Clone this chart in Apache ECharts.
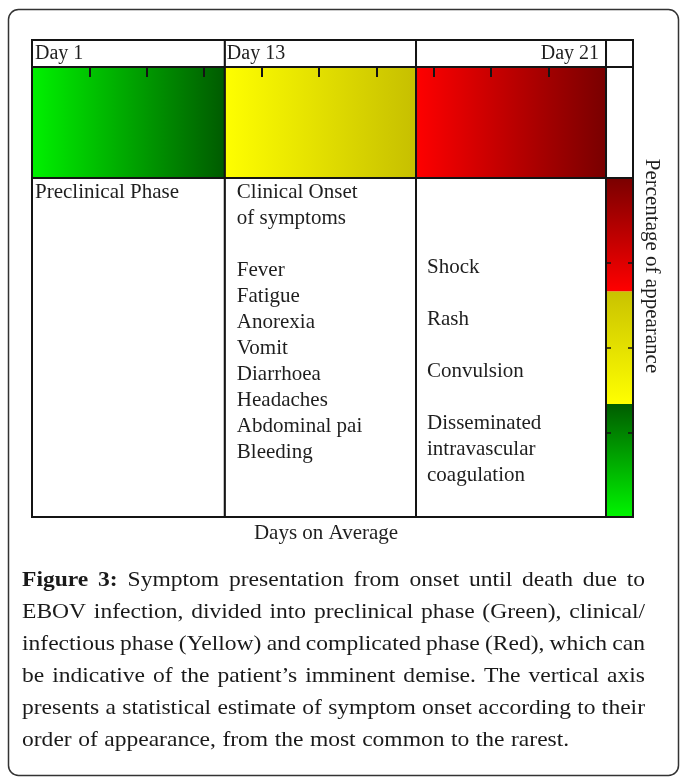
<!DOCTYPE html>
<html>
<head>
<meta charset="utf-8">
<style>
  html, body { margin: 0; padding: 0; background: #ffffff; }
  #chart { width: 680px; height: 778px; }
</style>
<script src="https://cdn.jsdelivr.net/npm/echarts@6/dist/echarts.min.js"></script>
</head>
<body>
<div id="chart"></div>
<script>
// ---------------- data ----------------
const dayLabels = ['Day 1', 'Day 13', 'Day 21'];
const dayAnchors = [0, 3.36, 10];            // x-axis units where the day labels sit
const phaseStarts = [0, 3.36, 6.69];          // x-axis units (timeline schematic)
const phaseEnds = [3.36, 6.69, 10];
const extraColumnEnd = 10.47;                 // right-hand column holding the colour scale
const preclinicalLines = ['Preclinical Phase'];
const preclinicalRows = [0];
const clinicalLines = ['Clinical Onset', 'of symptoms', 'Fever', 'Fatigue', 'Anorexia', 'Vomit',
  'Diarrhoea', 'Headaches', 'Abdominal pai', 'Bleeding'];
const clinicalRows = [0, 1, 3, 4, 5, 6, 7, 8, 9, 10];
const complicatedLines = ['Shock', 'Rash', 'Convulsion', 'Disseminated', 'intravascular', 'coagulation'];
const complicatedRows = [2.9, 4.9, 6.9, 8.9, 9.9, 10.9];
const percentSegments = [33.3, 33.3, 33.4];   // green, yellow, red (bottom to top)
const percentTickInterval = 25;
const captionBold = 'Figure 3:';
const captionLines = [
  'Symptom presentation from onset until death due to',
  'EBOV infection, divided into preclinical phase (Green), clinical/',
  'infectious phase (Yellow) and complicated phase (Red), which can',
  'be indicative of the patient\u2019s imminent demise. The vertical axis',
  'presents a statistical estimate of symptom onset according to their',
  'order of appearance, from the most common to the rarest.'
];

// ---------------- styles ----------------
const SERIF = '"Liberation Serif", "Times New Roman", serif';
const LINE = '#141414';
const TXT = '#1e1e1e';
const bandGradients = [
  ['#00f200', '#005a00'],
  ['#ffff00', '#c6bf00'],
  ['#ff0000', '#780000']
];
const segGradients = [   // top colour -> bottom colour
  ['#005c00', '#00f500'],
  ['#c9c200', '#ffff00'],
  ['#7a0000', '#ff0000']
];
function hGrad(c) {
  return new echarts.graphic.LinearGradient(0, 0, 1, 0, [{offset: 0, color: c[0]}, {offset: 1, color: c[1]}]);
}
function vGrad(c) {
  return new echarts.graphic.LinearGradient(0, 0, 0, 1, [{offset: 0, color: c[0]}, {offset: 1, color: c[1]}]);
}

const chart = echarts.init(document.getElementById('chart'), null, {renderer: 'canvas'});

// cells renderer: data item = [start, end]
function cellRenderer(fills) {
  return function (params, api) {
    const cs = params.coordSys;
    const x0 = api.coord([api.value(0), 0])[0];
    const x1 = api.coord([api.value(1), 0])[0];
    return {
      type: 'rect',
      shape: {x: x0, y: cs.y, width: x1 - x0, height: cs.height},
      style: {fill: fills[params.dataIndex], stroke: LINE, lineWidth: 2}
    };
  };
}
// text renderer
function textRenderer(texts, offsets, aligns, size) {
  return function (params, api) {
    const p = api.coord([api.value(0), api.value(1)]);
    const i = params.dataIndex;
    return {
      type: 'text',
      x: p[0] + offsets[i],
      y: p[1],
      style: {
        text: texts[i], fill: TXT, fontSize: size, fontFamily: SERIF,
        align: aligns[i], verticalAlign: 'middle'
      }
    };
  };
}

const headerCells = phaseStarts.map((s, i) => [s, phaseEnds[i]]).concat([[10, extraColumnEnd]]);
const bodyCells = phaseStarts.map((s, i) => [s, phaseEnds[i]]);

// body texts
const bodyTexts = [], bodyData = [], bodyOffsets = [], bodyAligns = [];
preclinicalLines.forEach((t, i) => { bodyTexts.push(t); bodyData.push([phaseStarts[0], preclinicalRows[i]]); bodyOffsets.push(3); bodyAligns.push('left'); });
clinicalLines.forEach((t, i) => { bodyTexts.push(t); bodyData.push([phaseStarts[1], clinicalRows[i]]); bodyOffsets.push(12); bodyAligns.push('left'); });
complicatedLines.forEach((t, i) => { bodyTexts.push(t); bodyData.push([phaseStarts[2], complicatedRows[i]]); bodyOffsets.push(11); bodyAligns.push('left'); });

// ---------------- caption (justified) ----------------
const CAP_SIZE = 22, CAP_SCALE = 1.07, CAP_LEFT = 22, CAP_RIGHT = 645, CAP_TOP = 580, CAP_LH = 32;
const mctx = document.createElement('canvas').getContext('2d');
function measure(word, bold) {
  mctx.font = (bold ? 'bold ' : '') + CAP_SIZE + 'px "Liberation Serif"';
  return mctx.measureText(word).width * CAP_SCALE;
}
const captionGraphics = [];
captionLines.forEach((line, li) => {
  let tokens = line.split(' ').map(w => ({w, bold: false}));
  if (li === 0) tokens = captionBold.split(' ').map(w => ({w, bold: true})).concat(tokens);
  const widths = tokens.map(t => measure(t.w, t.bold));
  const total = widths.reduce((a, b) => a + b, 0);
  const last = li === captionLines.length - 1;
  const gap = last ? measure(' ', false) * 1.1 : (CAP_RIGHT - CAP_LEFT - total) / (tokens.length - 1);
  let x = CAP_LEFT;
  tokens.forEach((t, k) => {
    captionGraphics.push({
      type: 'text', x: x, y: CAP_TOP + li * CAP_LH, scaleX: CAP_SCALE,
      style: {
        text: t.w, fill: '#1a1a1a', fontSize: CAP_SIZE, fontFamily: SERIF,
        fontWeight: t.bold ? 'bold' : 'normal', verticalAlign: 'middle', align: 'left'
      }
    });
    x += widths[k] + gap;
  });
});

const hiddenAxis = {axisLine: {show: false}, axisTick: {show: false}, axisLabel: {show: false}, splitLine: {show: false}};
const scaleAxis = (pos) => ({
  gridIndex: 3, type: 'value', min: 0, max: 100, interval: percentTickInterval, position: pos, z: 10,
  axisLine: {show: false}, axisLabel: {show: false}, splitLine: {show: false},
  axisTick: {show: true, inside: true, length: 5, lineStyle: {color: LINE, width: 1.5}}
});

const option = {
  backgroundColor: '#ffffff',
  animation: false,
  grid: [
    {left: 32, top: 40, width: 601, height: 27},
    {left: 32, top: 67, width: 601, height: 111},
    {left: 32, top: 178, width: 574, height: 339},
    {left: 606, top: 178, width: 27, height: 339}
  ],
  xAxis: [
    // header axis: its ticks hang down into the coloured band
    {gridIndex: 0, type: 'value', min: 0, max: extraColumnEnd, interval: 1, position: 'bottom', z: 10,
      axisLine: {show: false}, axisLabel: {show: false}, splitLine: {show: false},
      axisTick: {show: true, inside: false, length: 10, lineStyle: {color: LINE, width: 2}}},
    Object.assign({gridIndex: 1, type: 'value', min: 0, max: extraColumnEnd}, hiddenAxis),
    Object.assign({gridIndex: 2, type: 'value', min: 0, max: 10}, hiddenAxis),
    Object.assign({gridIndex: 3, type: 'category', data: ['']}, hiddenAxis)
  ],
  yAxis: [
    Object.assign({gridIndex: 0, type: 'value', min: 0, max: 1}, hiddenAxis),
    Object.assign({gridIndex: 1, type: 'value', min: 0, max: 1}, hiddenAxis),
    Object.assign({gridIndex: 2, type: 'value', inverse: true, min: -0.55, max: 12.5}, hiddenAxis),
    scaleAxis('left'),
    scaleAxis('right')
  ],
  series: [
    {type: 'custom', xAxisIndex: 0, yAxisIndex: 0, data: headerCells, z: 2,
      renderItem: cellRenderer(['#fff', '#fff', '#fff', '#fff'])},
    {type: 'custom', xAxisIndex: 0, yAxisIndex: 0, z: 5,
      data: dayAnchors.map(a => [a, 0.5]),
      renderItem: textRenderer(dayLabels, [3, 2, -7], ['left', 'left', 'right'], 20)},
    {type: 'custom', xAxisIndex: 1, yAxisIndex: 1, data: headerCells, z: 2,
      renderItem: cellRenderer(bandGradients.map(hGrad).concat(['#fff']))},
    {type: 'custom', xAxisIndex: 2, yAxisIndex: 2, data: bodyCells, z: 2,
      renderItem: cellRenderer(['#fff', '#fff', '#fff'])},
    {type: 'custom', xAxisIndex: 2, yAxisIndex: 2, data: bodyData, z: 5,
      renderItem: textRenderer(bodyTexts, bodyOffsets, bodyAligns, 21)},
    {type: 'bar', xAxisIndex: 3, yAxisIndex: 3, stack: 'p', barWidth: '100%', data: [percentSegments[0]],
      itemStyle: {color: vGrad(segGradients[0])}, z: 2},
    {type: 'bar', xAxisIndex: 3, yAxisIndex: 3, stack: 'p', barWidth: '100%', data: [percentSegments[1]],
      itemStyle: {color: vGrad(segGradients[1])}, z: 2},
    {type: 'bar', xAxisIndex: 3, yAxisIndex: 3, stack: 'p', barWidth: '100%', data: [percentSegments[2]],
      itemStyle: {color: vGrad(segGradients[2])}, z: 2},
    {type: 'custom', xAxisIndex: 3, yAxisIndex: 3, data: [[0, 0]], z: 6,
      renderItem: function (params) {
        const cs = params.coordSys;
        return {type: 'rect', shape: {x: cs.x, y: cs.y, width: cs.width, height: cs.height},
          style: {fill: 'none', stroke: LINE, lineWidth: 2}};
      }}
  ],
  graphic: [
    {type: 'rect', shape: {x: 8.5, y: 9.5, width: 670, height: 766, r: 10},
      style: {fill: 'none', stroke: '#333', lineWidth: 1.5}, silent: true},
    {type: 'text', x: 326, y: 533,
      style: {text: 'Days on Average', fill: TXT, fontSize: 21, fontFamily: SERIF, align: 'center', verticalAlign: 'middle'}},
    {type: 'text', x: 652, y: 266, rotation: -Math.PI / 2,
      style: {text: 'Percentage of appearance', fill: TXT, fontSize: 21, fontFamily: SERIF, align: 'center', verticalAlign: 'middle'}}
  ].concat(captionGraphics)
};
chart.setOption(option);
</script>
</body>
</html>
